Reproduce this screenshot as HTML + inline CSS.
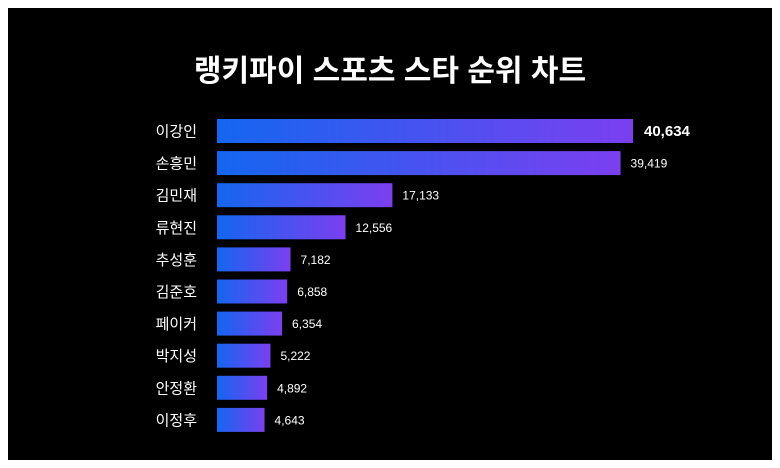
<!DOCTYPE html>
<html><head><meta charset="utf-8"><style>
html,body{margin:0;padding:0;background:#fff;}
#wrap{position:relative;width:780px;height:468px;background:#fff;}
svg{position:absolute;left:0;top:0;}
text{font-family:"Liberation Sans","Noto Sans CJK KR",sans-serif;}
</style></head><body>
<div id="wrap">
<svg id="chart" width="780" height="468">
<defs><linearGradient id="g" x1="0" x2="1" y1="0" y2="0"><stop offset="0" stop-color="#1466f0"/><stop offset="1" stop-color="#7b3ff0"/></linearGradient></defs>
<rect x="8" y="8" width="764" height="452" fill="#000"/>
<text x="390" y="81" text-anchor="middle" fill="#fff" font-size="30" font-weight="bold">랭키파이 스포츠 스타 순위 차트</text>
</svg>
</div>
<script>
const categories=["이강인","손흥민","김민재","류현진","추성훈","김준호","페이커","박지성","안정환","이정후"];
const values=[40634,39419,17133,12556,7182,6858,6354,5222,4892,4643];
const svg=document.getElementById('chart');
const NS='http://www.w3.org/2000/svg';
const x0=217, scale=416/40634;
function xs(v){return v*scale;}
function yc(i){return 131+i*32.1;}
values.forEach((v,i)=>{
  const r=document.createElementNS(NS,'rect');
  r.setAttribute('x',x0);r.setAttribute('y',yc(i)-12);
  r.setAttribute('width',xs(v));r.setAttribute('height',24);
  r.setAttribute('fill','url(#g)');
  
  
  svg.appendChild(r);
  const c=document.createElementNS(NS,'text');
  c.setAttribute('x',197);c.setAttribute('y',yc(i)+5.5);
  c.setAttribute('text-anchor','end');c.setAttribute('fill','#fff');c.setAttribute('font-size','15');
  c.textContent=categories[i];
  
  
  svg.appendChild(c);
  const t=document.createElementNS(NS,'text');
  t.setAttribute('x',x0+xs(v)+(i===0?11:10));t.setAttribute('y',yc(i)+(i===0?5:4.5));
  t.setAttribute('fill','#fff');
  t.setAttribute('font-size',i===0?'15':'12');
  if(i===0)t.setAttribute('font-weight','bold');
  t.textContent=v.toLocaleString('en-US');
  
  
  svg.appendChild(t);
});
</script>
</body></html>
